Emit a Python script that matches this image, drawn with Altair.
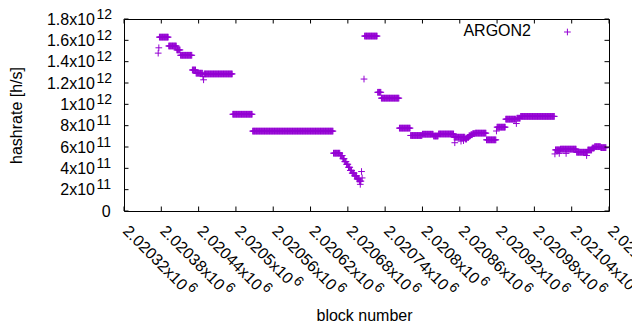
import altair as alt
import pandas as pd

SERIES = "ARGON2"
PURPLE = "#9400D3"
FONT = "Liberation Sans"

# constant-value runs: first block, last block, hashrate (x1e12 h/s)
seg_start = [2020377, 2020392, 2020405, 2020411, 2020430, 2020436, 2020449, 2020495, 2020527,
             2020657, 2020668, 2020672, 2020675, 2020678, 2020681, 2020684, 2020687, 2020691,
             2020695, 2020699,
             2020707, 2020728, 2020734, 2020763, 2020781, 2020800, 2020818, 2020826, 2020851,
             2020869, 2020872, 2020875, 2020878, 2020881, 2020885, 2020903, 2020920, 2020934,
             2020952, 2020958, 2021014, 2021022, 2021048, 2021066, 2021073, 2021077, 2021087]
seg_end = [2020391, 2020404, 2020410, 2020429, 2020435, 2020446, 2020494, 2020526, 2020656,
           2020667, 2020671, 2020674, 2020677, 2020680, 2020683, 2020686, 2020690, 2020694,
           2020698, 2020701,
           2020727, 2020733, 2020762, 2020780, 2020799, 2020817, 2020825, 2020850, 2020868,
           2020871, 2020874, 2020877, 2020880, 2020884, 2020902, 2020918, 2020933, 2020950,
           2020957, 2021012, 2021021, 2021047, 2021065, 2021072, 2021076, 2021086, 2021095]
seg_value = [1.63, 1.547, 1.51, 1.46, 1.322, 1.292, 1.285, 0.907, 0.749,
             0.542, 0.52, 0.49, 0.463, 0.438, 0.41, 0.38, 0.355, 0.33,
             0.30, 0.28,
             1.64, 1.113, 1.058, 0.777, 0.708, 0.72, 0.703, 0.722, 0.692,
             0.675, 0.69, 0.705, 0.715, 0.725, 0.73, 0.667, 0.786, 0.861,
             0.87, 0.887, 0.573, 0.58, 0.551, 0.572, 0.59, 0.603, 0.594]

# isolated blocks
single_block = [2020375, 2020376, 2020447, 2020448, 2020700, 2020702, 2020703, 2020706,
                2020852, 2020862, 2020866, 2020919, 2020951, 2021013, 2021020, 2021031, 2021064]
single_value = [1.48, 1.53, 1.26, 1.23, 0.25, 0.37, 0.31, 1.237,
                0.64, 0.655, 0.66, 0.75, 0.82, 0.535, 0.54, 0.54, 0.52]

x_ticks = [2020320, 2020380, 2020440, 2020500, 2020560, 2020620, 2020680,
           2020740, 2020800, 2020860, 2020920, 2020980, 2021040, 2021100]
x_tick_main = ["2.02032x10", "2.02038x10", "2.02044x10", "2.0205x10", "2.02056x10",
               "2.02062x10", "2.02068x10", "2.02074x10", "2.0208x10", "2.02086x10",
               "2.02092x10", "2.02098x10", "2.02104x10", "2.0211x10"]
x_tick_exp = ["6"] * 14

y_ticks = [0, 200000000000, 400000000000, 600000000000, 800000000000,
           1000000000000, 1200000000000, 1400000000000, 1600000000000, 1800000000000]
y_tick_main = ["0", "2x10", "4x10", "6x10", "8x10", "1x10", "1.2x10", "1.4x10", "1.6x10", "1.8x10"]
y_tick_exp = ["", "11", "11", "11", "11", "12", "12", "12", "12", "12"]

rows = []
for s, e, v in zip(seg_start, seg_end, seg_value):
    for b in range(s, e + 1):
        rows.append({"block": b, "hashrate": v * 1e12})
for b, v in zip(single_block, single_value):
    rows.append({"block": b, "hashrate": v * 1e12})
df = pd.DataFrame(rows)

W, H = 485, 192
xs = alt.Scale(domain=[x_ticks[0], x_ticks[-1]], nice=False, zero=False)
ys = alt.Scale(domain=[y_ticks[0], y_ticks[-1]], nice=False, zero=False)


def jsarr(vals):
    return "[" + ",".join(repr(v) if isinstance(v, str) else str(v) for v in vals) + "]"


def lookup_expr(ticks, labels):
    return f"{jsarr(labels)}[indexof({jsarr(ticks)}, datum.value)]"


common = dict(ticks=False, tickSize=0, domain=False, grid=False, labelFont=FONT,
              labelColor="black", labelFlush=False, labelOverlap=False)

short_test = "datum.value % 300 == 0"
EXP_FS = 14

x_main_axis = alt.Axis(values=x_ticks, labelExpr=lookup_expr(x_ticks, x_tick_main),
                       labelAngle=45, labelAlign="left", labelBaseline="middle",
                       labelFontSize=16, labelPadding=17, labelOffset=1,
                       title="block number", titleFont=FONT, titleFontSize=16,
                       titleFontWeight="normal", titleColor="black",
                       titleX=240, titleY=109, titleAlign="center",
                       titleBaseline="alphabetic", orient="bottom", **common)
x_exp_axis = alt.Axis(values=x_ticks, labelExpr=lookup_expr(x_ticks, x_tick_exp),
                      labelAngle=45, labelAlign="left", labelBaseline="middle",
                      labelFontSize=EXP_FS,
                      labelPadding={"condition": {"test": short_test, "value": 67.3}, "value": 73.6},
                      labelOffset={"condition": {"test": short_test, "value": 59.1}, "value": 65.4},
                      title=None, orient="bottom", **common)
y_main_axis = alt.Axis(values=y_ticks, labelExpr=lookup_expr(y_ticks, y_tick_main),
                       labelAlign="right", labelBaseline="middle", labelFontSize=16,
                       labelPadding={"condition": {"test": "datum.value == 0", "value": 13.8}, "value": 29.5},
                       title="hashrate [h/s]", titleFont=FONT, titleFontSize=16,
                       titleFontWeight="normal", titleColor="black", titleAngle=270,
                       titleX=-102.5, titleY=96, titleAlign="center",
                       titleBaseline="alphabetic", orient="left", **common)
y_exp_axis = alt.Axis(values=y_ticks, labelExpr=lookup_expr(y_ticks, y_tick_exp),
                      labelAlign="left", labelBaseline="middle", labelFontSize=EXP_FS,
                      labelPadding=28.0, labelOffset=-5, title=None, orient="left", **common)

PLUS = "M-1,0L1,0M0,-1L0,1"

points = alt.Chart(df).mark_point(shape=PLUS, size=45, filled=False, strokeWidth=1,
                                  color=PURPLE, opacity=1).encode(
    x=alt.X("block:Q", scale=xs, axis=x_main_axis),
    y=alt.Y("hashrate:Q", scale=ys, axis=y_main_axis),
)
exp_layer = alt.Chart(df).mark_point(size=0, opacity=0).encode(
    x=alt.X("block:Q", scale=xs, axis=x_exp_axis),
    y=alt.Y("hashrate:Q", scale=ys, axis=y_exp_axis),
)

ytick_df = pd.DataFrame({"v": y_ticks})
xtick_df = pd.DataFrame({"t": x_ticks})
TL = 4.5
yl = alt.Chart(ytick_df).mark_rule(color="black", strokeWidth=1).encode(
    y=alt.Y("v:Q", scale=ys, axis=None), x=alt.value(0), x2=alt.value(TL))
yr = alt.Chart(ytick_df).mark_rule(color="black", strokeWidth=1).encode(
    y=alt.Y("v:Q", scale=ys, axis=None), x=alt.value(W - TL), x2=alt.value(W))
xb = alt.Chart(xtick_df).mark_rule(color="black", strokeWidth=1).encode(
    x=alt.X("t:Q", scale=xs, axis=None), y=alt.value(H - TL), y2=alt.value(H))
xt = alt.Chart(xtick_df).mark_rule(color="black", strokeWidth=1).encode(
    x=alt.X("t:Q", scale=xs, axis=None), y=alt.value(0), y2=alt.value(TL))

leg_df = pd.DataFrame({"name": [SERIES]})
leg_text = alt.Chart(leg_df).mark_text(align="right", baseline="middle", font=FONT,
                                       fontSize=16, color="black").encode(
    text="name:N", x=alt.value(407), y=alt.value(12.4))
leg_sym = alt.Chart(leg_df).mark_point(shape=PLUS, size=45, filled=False, strokeWidth=1,
                                       color=PURPLE, opacity=1).encode(
    x=alt.value(443.4), y=alt.value(13))

chart = alt.layer(points, exp_layer, yl, yr, xb, xt, leg_text, leg_sym).resolve_axis(
    x="independent", y="independent"
).properties(
    width=W, height=H,
    autosize=alt.AutoSizeParams(type="none"),
    padding={"left": 116, "top": 11, "right": 23, "bottom": 111},
    background="white",
).configure_view(stroke="black", strokeWidth=1)

chart.save("out.html", embed_options={"renderer": "svg", "actions": False})
